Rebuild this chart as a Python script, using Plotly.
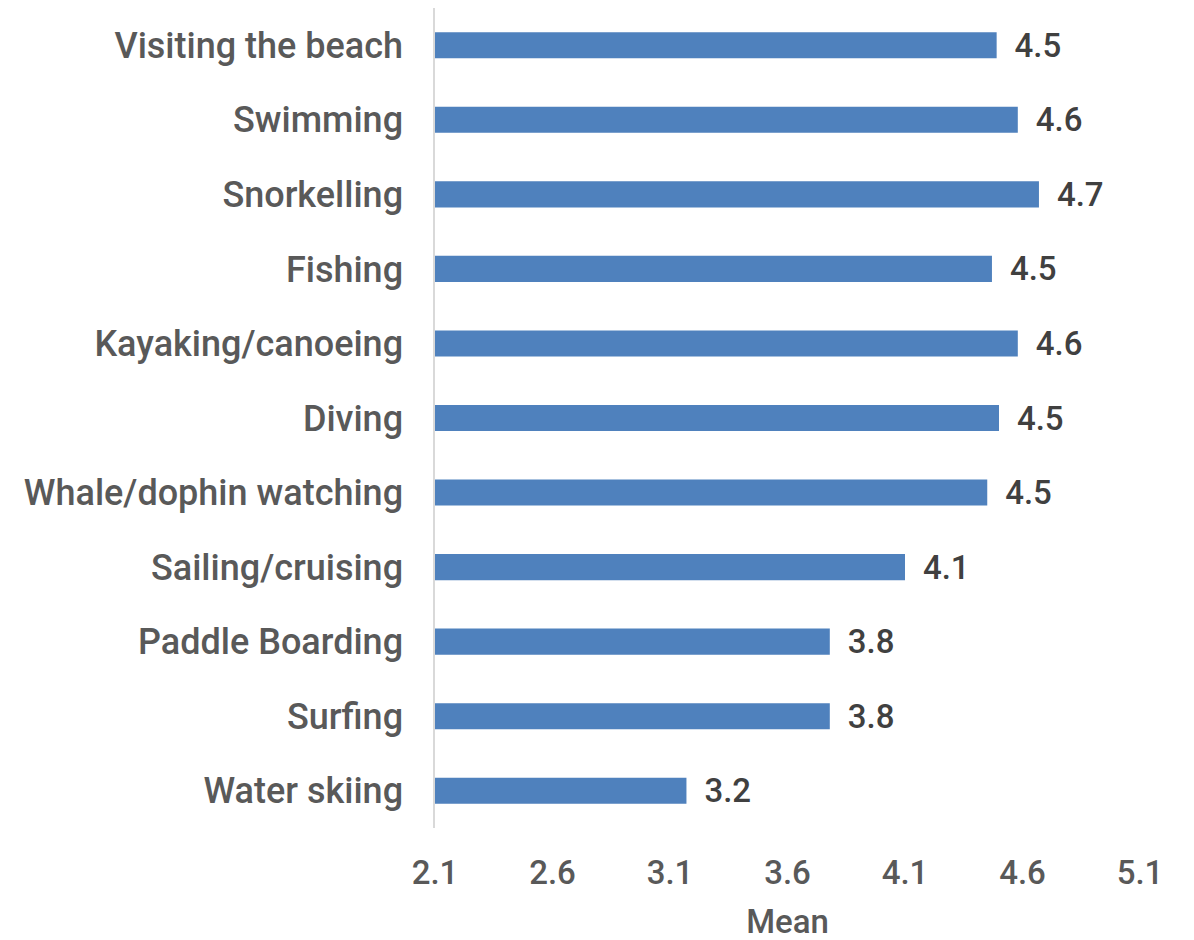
import plotly.graph_objects as go

categories = ["Visiting the beach", "Swimming", "Snorkelling", "Fishing", "Kayaking/canoeing",
              "Diving", "Whale/dophin watching", "Sailing/cruising", "Paddle Boarding",
              "Surfing", "Water skiing"]
means = [4.49, 4.58, 4.67, 4.47, 4.58, 4.50, 4.45, 4.10, 3.78, 3.78, 3.17]
tick_vals = [2.1, 2.6, 3.1, 3.6, 4.1, 4.6, 5.1]

font_family = "Roboto, Liberation Sans, Arial"

fig = go.Figure(go.Bar(
    y=categories,
    x=means,
    base=0,
    orientation="h",
    marker=dict(color="#4f81bd", line=dict(width=0)),
    text=[f"{v:.1f}" for v in means],
    textposition="outside",
    texttemplate="\u2009 %{text}",
    constraintext="none",
    textfont=dict(family=font_family, size=33, color="#404040", weight=500),
    cliponaxis=False,
    width=0.35,
))

fig.update_layout(
    width=1194, height=940,
    margin=dict(l=427, r=62, t=0, b=120, autoexpand=False),
    paper_bgcolor="white", plot_bgcolor="white",
    showlegend=False,
    font=dict(family=font_family, color="#595959"),
)
fig.update_xaxes(
    range=[2.1, 5.1], tickvals=tick_vals, ticktext=[f"{t:.1f}" for t in tick_vals],
    showgrid=False, zeroline=False, showline=False, ticks="",
    tickfont=dict(size=33, color="#595959", weight=500),
    ticklabelstandoff=22,
    title=dict(text="Mean", font=dict(size=33, color="#595959", weight=500), standoff=18),
    automargin=False,
)
fig.update_yaxes(
    categoryorder="array", categoryarray=categories[::-1],
    autorange=False, range=[-0.5, len(categories) - 0.5],
    showgrid=False, zeroline=False, showline=True, linecolor="#d9d9d9", linewidth=1.5,
    ticks="", ticklabelstandoff=23,
    tickfont=dict(size=36, color="#595959", weight=500),
    automargin=False,
)
fig.write_html("out.html")
